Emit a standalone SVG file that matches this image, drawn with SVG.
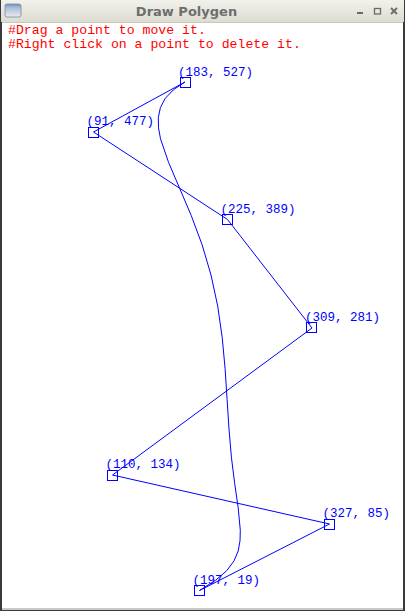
<svg xmlns="http://www.w3.org/2000/svg" width="405" height="611" viewBox="0 0 405 611">
<defs>
<linearGradient id="tb" x1="0" y1="0" x2="0" y2="1">
<stop offset="0" stop-color="#f2f2ec"/>
<stop offset="1" stop-color="#dcdcd2"/>
</linearGradient>
<linearGradient id="ic" x1="0" y1="0" x2="0" y2="1">
<stop offset="0" stop-color="#6f8fc0"/>
<stop offset="0.3" stop-color="#aebfd8"/>
<stop offset="1" stop-color="#e8ecf2"/>
</linearGradient>
<style>
.lbl{font-family:"Liberation Mono","DejaVu Sans Mono",monospace;font-size:12.5px;fill:#0000ff}
.hint{font-family:"Liberation Mono","DejaVu Sans Mono",monospace;font-size:13.2px;fill:#ff0000}
.pt{fill:none;stroke:#0000ff;stroke-width:1}
.edge{fill:none;stroke:#0000ff;stroke-width:1;stroke-linejoin:round}
</style>
</defs>
<g id="window">
<rect x="0" y="0" width="405" height="611" fill="#3a3a3a"/>
<rect x="1" y="0" width="403" height="22" fill="url(#tb)"/>
<rect x="2" y="22" width="401" height="1" fill="#c9c9b4"/>
<rect x="2" y="23" width="401" height="585" fill="#ffffff"/>
<rect x="2" y="608" width="401" height="2" fill="#c8c8c8"/>
<rect x="5" y="4" width="16" height="13" rx="2" fill="url(#ic)" stroke="#7a8aa0" stroke-width="0.8"/>
<text x="186.5" y="15.5" text-anchor="middle" font-family="DejaVu Sans, sans-serif" font-weight="bold" font-size="13" fill="#6e6e6e">Draw Polygen</text>
<rect x="357" y="12" width="6" height="2" fill="#6a6a6a"/>
<rect x="374.5" y="8.5" width="6" height="5.5" fill="none" stroke="#6a6a6a" stroke-width="1.3"/>
<path d="M391,8 L397,14 M397,8 L391,14" stroke="#6a6a6a" stroke-width="1.8"/>
</g>
<g id="instructions">
<text class="hint" x="8" y="33.5">#Drag a point to move it.</text>
<text class="hint" x="8" y="47.5">#Right click on a point to delete it.</text>
</g>
<g id="connectors">
<polyline class="edge" points="185,82 93.5,132 227.5,219.5 312,328 112.5,475 329.5,524 199.5,590.5"/>
<polyline class="edge" id="curve" points="185,82 173.3,89.9 165.2,98.4 160.4,107.6 158.3,117.4 158.5,127.8 160.5,138.8 168.6,162.5 179.6,188.2 191.3,215.7 202.1,244.7 211,275 217.7,306 222.2,337.4 225.1,368.7 227.1,399.4 229,429 231.4,457.2 234.7,483.5 238.2,507.9 240.3,530.3 240,540.8 238.2,551 234,560.9 226.8,570.6 215.5,580.3 199.5,590.5"/>
</g>
<g id="p183_527"><rect class="pt" x="180.5" y="77.5" width="10" height="10"/><text class="lbl" x="178" y="75.5">(183, 527)</text></g>
<g id="p91_477"><rect class="pt" x="88.5" y="127.5" width="10" height="10"/><text class="lbl" x="86.5" y="125">(91, 477)</text></g>
<g id="p225_389"><rect class="pt" x="222.5" y="214.5" width="10" height="10"/><text class="lbl" x="220.5" y="212.5">(225, 389)</text></g>
<g id="p309_281"><rect class="pt" x="306.5" y="322.5" width="10" height="10"/><text class="lbl" x="305" y="321">(309, 281)</text></g>
<g id="p110_134"><rect class="pt" x="107.5" y="470.5" width="10" height="10"/><text class="lbl" x="105.5" y="468">(110, 134)</text></g>
<g id="p327_85"><rect class="pt" x="324.5" y="519.5" width="10" height="10"/><text class="lbl" x="322.5" y="517">(327, 85)</text></g>
<g id="p197_19"><rect class="pt" x="194.5" y="585.5" width="10" height="10"/><text class="lbl" x="192.5" y="583.5">(197, 19)</text></g>
</svg>
